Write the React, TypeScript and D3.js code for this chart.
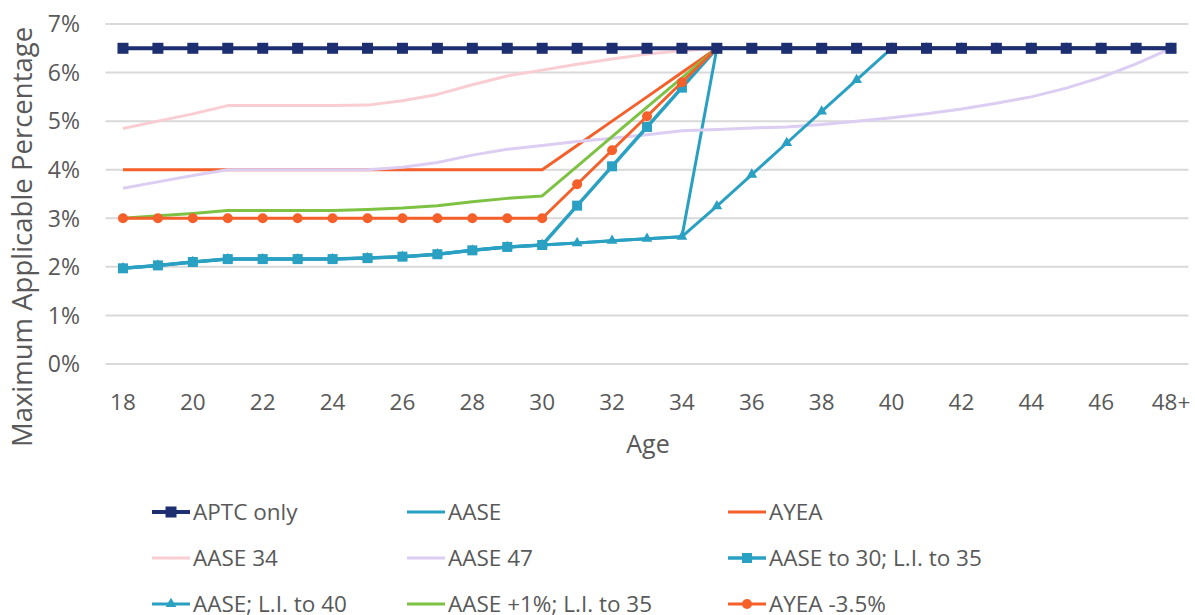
import React from "react";
import * as d3 from "d3";

const ages = ["18","19","20","21","22","23","24","25","26","27","28","29","30","31","32","33","34","35","36","37","38","39","40","41","42","43","44","45","46","47","48+"];
const tickLabels = ["18","20","22","24","26","28","30","32","34","36","38","40","42","44","46","48+"];
const yTicks = [0, 1, 2, 3, 4, 5, 6, 7];

const aptcOnly = [6.5,6.5,6.5,6.5,6.5,6.5,6.5,6.5,6.5,6.5,6.5,6.5,6.5,6.5,6.5,6.5,6.5,6.5,6.5,6.5,6.5,6.5,6.5,6.5,6.5,6.5,6.5,6.5,6.5,6.5,6.5];
const aase = [1.97,2.03,2.1,2.16,2.16,2.16,2.16,2.18,2.21,2.26,2.34,2.41,2.45,2.49,2.54,2.58,2.62,6.5,6.5,6.5,6.5,6.5,6.5,6.5,6.5,6.5,6.5,6.5,6.5,6.5,6.5];
const ayea = [4,4,4,4,4,4,4,4,4,4,4,4,4,4.5,5,5.5,6,6.5,6.5,6.5,6.5,6.5,6.5,6.5,6.5,6.5,6.5,6.5,6.5,6.5,6.5];
const aase34 = [4.85,5.0,5.15,5.32,5.32,5.32,5.32,5.33,5.42,5.55,5.75,5.93,6.05,6.17,6.28,6.38,6.45,6.5,6.5,6.5,6.5,6.5,6.5,6.5,6.5,6.5,6.5,6.5,6.5,6.5,6.5];
const aase47 = [3.62,3.75,3.88,4.0,4.0,4.0,4.0,4.0,4.05,4.15,4.3,4.42,4.5,4.58,4.65,4.72,4.8,4.83,4.86,4.88,4.93,5.0,5.07,5.15,5.25,5.37,5.5,5.68,5.9,6.18,6.5];
const aaseTo30 = [1.97,2.03,2.1,2.16,2.16,2.16,2.16,2.18,2.21,2.26,2.34,2.41,2.45,3.26,4.07,4.88,5.69,6.5,6.5,6.5,6.5,6.5,6.5,6.5,6.5,6.5,6.5,6.5,6.5,6.5,6.5];
const aaseLi40 = [1.97,2.03,2.1,2.16,2.16,2.16,2.16,2.18,2.21,2.26,2.34,2.41,2.45,2.49,2.54,2.58,2.62,3.25,3.9,4.55,5.2,5.85,6.5,6.5,6.5,6.5,6.5,6.5,6.5,6.5,6.5];
const aasePlus1 = [3.0,3.05,3.1,3.16,3.16,3.16,3.16,3.18,3.21,3.26,3.34,3.41,3.46,4.07,4.68,5.29,5.89,6.5,6.5,6.5,6.5,6.5,6.5,6.5,6.5,6.5,6.5,6.5,6.5,6.5,6.5];
const ayeaMinus = [3,3,3,3,3,3,3,3,3,3,3,3,3,3.7,4.4,5.1,5.8,6.5,6.5,6.5,6.5,6.5,6.5,6.5,6.5,6.5,6.5,6.5,6.5,6.5,6.5];

type S = { name: string; values: number[]; color: string; width: number; marker: "none" | "square" | "circle" | "triangle"; msize: number };

const series: S[] = [
  { name: "APTC only", values: aptcOnly, color: "#1d2f70", width: 4, marker: "square", msize: 11 },
  { name: "AASE", values: aase, color: "#27a0c2", width: 3, marker: "none", msize: 0 },
  { name: "AYEA", values: ayea, color: "#f5602a", width: 3, marker: "none", msize: 0 },
  { name: "AASE 34", values: aase34, color: "#f9cdd2", width: 3, marker: "none", msize: 0 },
  { name: "AASE 47", values: aase47, color: "#dccdf2", width: 3, marker: "none", msize: 0 },
  { name: "AASE to 30; L.I. to 35", values: aaseTo30, color: "#2aa0c2", width: 3.5, marker: "square", msize: 10 },
  { name: "AASE; L.I. to 40", values: aaseLi40, color: "#2aa0c2", width: 3, marker: "triangle", msize: 10 },
  { name: "AASE +1%; L.I. to 35", values: aasePlus1, color: "#7dc243", width: 3, marker: "none", msize: 0 },
  { name: "AYEA -3.5%", values: ayeaMinus, color: "#f5602a", width: 3, marker: "circle", msize: 10 },
];

const legendCols = [152, 407, 728];
const legendRows = [512, 558, 604];

function Marker({ s, x, y }: { s: S; x: number; y: number }) {
  const m = s.msize;
  if (s.marker === "square") return <rect x={x - m / 2} y={y - m / 2} width={m} height={m} fill={s.color} />;
  if (s.marker === "circle") return <circle cx={x} cy={y} r={m / 2} fill={s.color} />;
  if (s.marker === "triangle") {
    const p = d3.symbol().type(d3.symbolTriangle).size(m * m * 0.5)();
    return <path d={p || ""} transform={`translate(${x},${y})`} fill={s.color} />;
  }
  return null;
}

export default function App() {
  const W = 1195, H = 615;
  const x = d3.scaleBand<string>().domain(ages).range([105.5, 1188.5]).padding(0);
  const cx = (a: string) => (x(a) as number) + x.bandwidth() / 2;
  const y = d3.scaleLinear().domain([0, 7]).range([364, 24]);
  const line = d3.line<number>().x((_, i) => cx(ages[i])).y((v) => y(v));
  const font = "'Open Sans', 'Segoe UI', sans-serif";
  const textColor = "#595959";
  const drawOrder = [...series.slice(1), series[0]];
  return (
    <svg width={W} height={H} style={{ position: "absolute", left: 0, top: 0, background: "#fff" }} fontFamily={font}>
      {yTicks.map((t) => (
        <g key={t}>
          <line x1={105.5} x2={1188.5} y1={y(t)} y2={y(t)} stroke="#d9d9d9" strokeWidth={2} />
          <text x={80} y={y(t)} dy="0.36em" textAnchor="end" fontSize={23} fill={textColor}>{t}%</text>
        </g>
      ))}
      {tickLabels.map((t) => (
        <text key={t} x={cx(t)} y={402} dy="0.36em" textAnchor="middle" fontSize={22.5} fill={textColor}>{t}</text>
      ))}
      <text x={648} y={444} dy="0.36em" textAnchor="middle" fontSize={25} fill={textColor}>Age</text>
      <text transform={`translate(22,237) rotate(-90)`} dy="0.36em" textAnchor="middle" fontSize={27.5} fill={textColor}>Maximum Applicable Percentage</text>
      {drawOrder.map((s) => (
        <g key={s.name}>
          <path d={line(s.values) || ""} fill="none" stroke={s.color} strokeWidth={s.width} strokeLinejoin="round" />
          {s.marker !== "none" && s.values.map((v, i) => <Marker key={i} s={s} x={cx(ages[i])} y={y(v)} />)}
        </g>
      ))}
      {series.map((s, i) => {
        const lx = legendCols[i % 3];
        const ly = legendRows[Math.floor(i / 3)];
        return (
          <g key={"lg" + s.name}>
            <line x1={lx} x2={lx + 38} y1={ly} y2={ly} stroke={s.color} strokeWidth={s.width} />
            {s.marker !== "none" && <Marker s={s} x={lx + 19} y={ly} />}
            <text x={lx + 41} y={ly} dy="0.36em" fontSize={22.5} fill={textColor}>{s.name}</text>
          </g>
        );
      })}
    </svg>
  );
}
